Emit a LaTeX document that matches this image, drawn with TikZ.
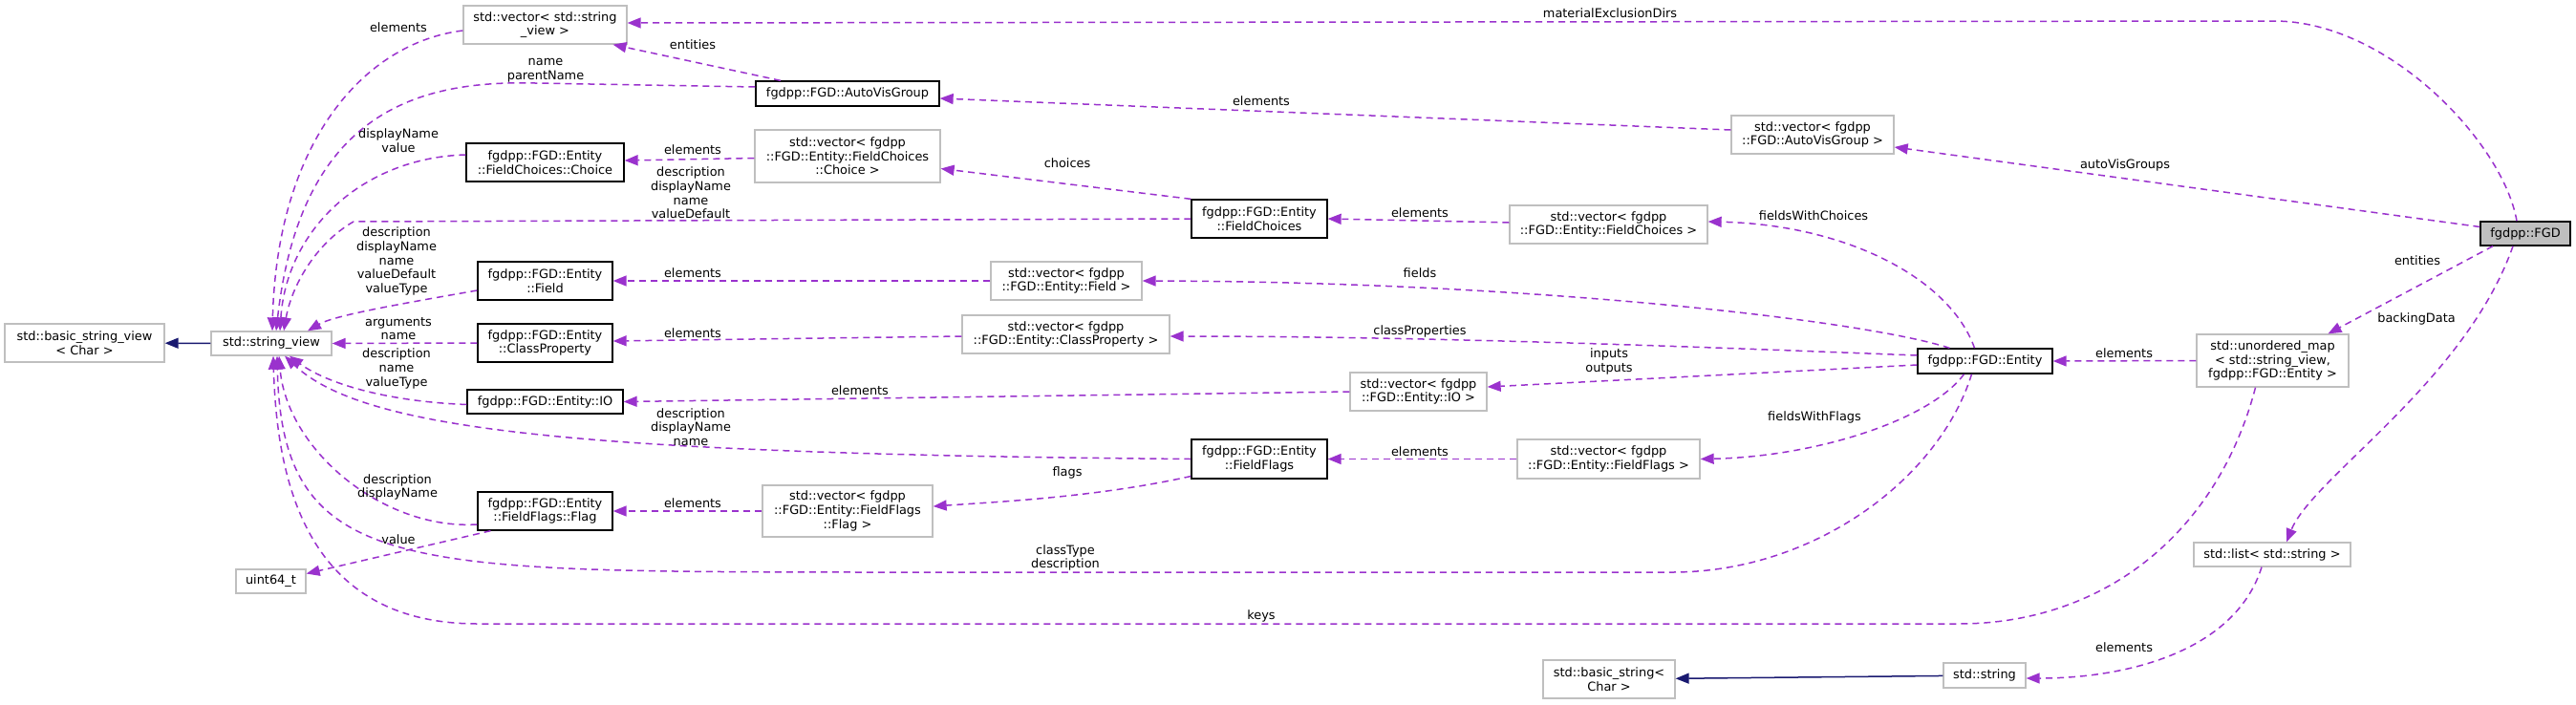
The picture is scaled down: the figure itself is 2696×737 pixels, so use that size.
\documentclass[tikz,border=0pt]{standalone}
\usepackage{fontspec}
\setmainfont{DejaVu Sans}
\usetikzlibrary{arrows.meta}
\definecolor{edgepurple}{HTML}{9A32CD}
\definecolor{basenavy}{HTML}{191970}
\definecolor{extgray}{HTML}{BFBFBF}

\begin{document}
\begin{tikzpicture}[x=1pt,y=-1pt,>={Triangle[length=14pt,width=11pt]},
    font=\fontsize{12.9}{14.6}\selectfont,
    class node/.style={draw=black,line width=1.3pt,fill=white,inner sep=0pt,align=center},
    ext node/.style={draw=extgray,line width=1.3pt,fill=white,inner sep=0pt,align=center},
    member edge/.style={->,draw=edgepurple,line width=1.5pt,dash pattern=on 7pt off 5pt},
    base edge/.style={->,draw=basenavy,line width=1.5pt},
    member label/.style={inner sep=0pt,align=center}]

  \useasboundingbox (0,0) rectangle (2696,737);

  % classes
  \node[class node,fill=extgray,minimum width=94pt,minimum height=25pt] (fgd) at (2643,244.5) {fgdpp::FGD};
  \node[class node,minimum width=141pt,minimum height=26pt] (entity) at (2077.5,378) {fgdpp::FGD::Entity};
  \node[ext node,minimum width=159pt,minimum height=55pt] (umap) at (2378.5,377.5) {std::unordered\_map\\< std::string\_view,\\ fgdpp::FGD::Entity >};
  \node[ext node,minimum width=164pt,minimum height=25pt] (list) at (2378,580.5) {std::list< std::string >};
  \node[ext node,minimum width=86pt,minimum height=26pt] (str) at (2077,707) {std::string};
  \node[ext node,minimum width=138pt,minimum height=40pt] (basicStr) at (1684,711) {std::basic\_string<\\ Char >};
  \node[ext node,minimum width=170pt,minimum height=40pt] (vecAVG) at (1897,141) {std::vector< fgdpp\\::FGD::AutoVisGroup >};
  \node[ext node,minimum width=207pt,minimum height=40pt] (vecFC) at (1683.5,235) {std::vector< fgdpp\\::FGD::Entity::FieldChoices >};
  \node[ext node,minimum width=143pt,minimum height=40pt] (vecIO) at (1484.5,410) {std::vector< fgdpp\\::FGD::Entity::IO >};
  \node[ext node,minimum width=191pt,minimum height=41pt] (vecFF) at (1683.5,480.5) {std::vector< fgdpp\\::FGD::Entity::FieldFlags >};
  \node[class node,minimum width=142pt,minimum height=40pt] (fc) at (1318,229) {fgdpp::FGD::Entity\\::FieldChoices};
  \node[class node,minimum width=142pt,minimum height=41pt] (ff) at (1318,480.5) {fgdpp::FGD::Entity\\::FieldFlags};
  \node[ext node,minimum width=158pt,minimum height=40pt] (vecField) at (1116,294) {std::vector< fgdpp\\::FGD::Entity::Field >};
  \node[ext node,minimum width=217pt,minimum height=40pt] (vecCP) at (1115.5,350) {std::vector< fgdpp\\::FGD::Entity::ClassProperty >};
  \node[ext node,minimum width=194pt,minimum height=55pt] (vecChoice) at (887,163.5) {std::vector< fgdpp\\::FGD::Entity::FieldChoices\\::Choice >};
  \node[ext node,minimum width=178pt,minimum height=54pt] (vecFlag) at (887,535) {std::vector< fgdpp\\::FGD::Entity::FieldFlags\\::Flag >};
  \node[class node,minimum width=192pt,minimum height=26pt] (avg) at (887,98) {fgdpp::FGD::AutoVisGroup};
  \node[ext node,minimum width=171pt,minimum height=40pt] (vecSV) at (570.5,26) {std::vector< std::string\\\_view >};
  \node[class node,minimum width=165pt,minimum height=40pt] (choice) at (570.5,170) {fgdpp::FGD::Entity\\::FieldChoices::Choice};
  \node[class node,minimum width=141pt,minimum height=40pt] (field) at (570.5,294) {fgdpp::FGD::Entity\\::Field};
  \node[class node,minimum width=141pt,minimum height=40pt] (cp) at (570.5,359) {fgdpp::FGD::Entity\\::ClassProperty};
  \node[class node,minimum width=163pt,minimum height=25pt] (io) at (570.5,420.5) {fgdpp::FGD::Entity::IO};
  \node[class node,minimum width=141pt,minimum height=40pt] (flag) at (570.5,535) {fgdpp::FGD::Entity\\::FieldFlags::Flag};
  \node[ext node,minimum width=126pt,minimum height=25pt] (sv) at (284,359.5) {std::string\_view};
  \node[ext node,minimum width=167pt,minimum height=40pt] (basicSV) at (88.5,359) {std::basic\_string\_view\\< Char >};
  \node[ext node,minimum width=73pt,minimum height=25pt] (uint64) at (283.5,608.5) {uint64\_t};

  % inheritance
  \path[every edge/.append style={base edge}]
    (sv) edge (basicSV)
    (str) edge (basicStr);

  % straight members
  \path[every edge/.append style={member edge}]
    ([yshift=5pt]vecAVG.west) edge ([yshift=-5pt]avg.east)
    ([yshift=7pt]fgd.west) edge ([yshift=-13pt]vecAVG.east)
    ([xshift=-70pt]avg.north) edge ([xshift=71pt]vecSV.south)
    ([yshift=-2pt]vecChoice.west) edge ([yshift=2pt]choice.east)
    (fc.north west) edge ([yshift=-13pt]vecChoice.east)
    ([yshift=2pt]vecFC.west) edge (fc.east)
    (vecField.west) edge (field.east)
    ([yshift=-2pt]vecCP.west) edge ([yshift=2pt]cp.east)
    (cp.west) edge (sv.east)
    (vecIO.west) edge (io.east)
    ([yshift=-4pt]entity.west) edge ([yshift=5pt]vecIO.east)
    (vecFF.west) edge (ff.east)
    (vecFlag.west) edge (flag.east)
    ([xshift=-57pt]flag.south) edge ([yshift=8pt]uint64.east)
    (umap.west) edge (entity.east)
    ([xshift=-34pt]fgd.south) edge ([xshift=58pt]umap.north);

  % curved members
  \draw[member edge] ([xshift=-9pt]fgd.north) .. controls (2620,150) and (2500,22) .. (2380,22) -- ([yshift=2pt]vecSV.east);
  \draw[member edge] ([yshift=-6pt]vecSV.west) .. controls (380,45) and (290,150) .. ([xshift=1pt]sv.north);
  \draw[member edge] ([yshift=7pt]avg.west) -- (560,87) .. controls (440,84) and (315,115) .. ([xshift=5pt]sv.north);
  \draw[member edge] ([yshift=8pt]choice.west) .. controls (380,165) and (300,240) .. ([xshift=9pt]sv.north);
  \draw[member edge] (fc.west) -- (370,232) .. controls (330,255) and (305,300) .. ([xshift=13pt]sv.north);
  \draw[member edge] ([yshift=-10pt]field.west) .. controls (420,318) and (350,330) .. ([xshift=38pt]sv.north);
  \draw[member edge] ([xshift=-11pt]entity.north) .. controls (2040,290) and (1930,235) .. ([yshift=3pt]vecFC.east);
  \draw[member edge] ([xshift=-37pt]entity.north) .. controls (1950,335) and (1600,295) .. (vecField.east);
  \draw[member edge] ([yshift=6pt]entity.west) .. controls (1800,364) and (1500,352) .. ([yshift=-2pt]vecCP.east);
  \draw[member edge] ([yshift=-3pt]io.west) .. controls (400,420) and (340,400) .. ([xshift=19pt]sv.south);
  \draw[member edge] (ff.west) .. controls (600,475) and (380,450) .. ([xshift=14pt]sv.south);
  \draw[member edge] ([yshift=-14pt]flag.west) .. controls (400,555) and (300,470) .. ([xshift=8pt]sv.south);
  \draw[member edge] ([xshift=-14pt]entity.south) .. controls (2030,500) and (1900,599) .. (1750,599) -- (900,599) .. controls (420,598) and (295,600) .. ([xshift=6pt]sv.south);
  \draw[member edge] ([xshift=-18pt]umap.south) .. controls (2320,560) and (2200,653) .. (2050,653) -- (500,653) .. controls (330,653) and (290,520) .. ([xshift=2pt]sv.south);
  \draw[member edge] ([xshift=-22pt]entity.south) .. controls (2020,440) and (1900,478) .. (vecFF.east);
  \draw[member edge] ([yshift=-18pt]ff.west) .. controls (1150,520) and (1050,525) .. ([yshift=5pt]vecFlag.east);
  \draw[member edge] ([xshift=-13pt]fgd.south) .. controls (2580,400) and (2420,500) .. ([xshift=15pt]list.north);
  \draw[member edge] ([xshift=-11pt]list.south) .. controls (2340,680) and (2230,710) .. ([yshift=-3pt]str.east);

  % member names
  \node[member label] (matLbl) at (1685,14) {materialExclusionDirs};
  \node[member label] (entLbl) at (725,47) {entities};
  \node[member label] (nameLbl) at (571,73.5) {name\\parentName};
  \node[member label] (svElLbl) at (417,29) {elements};
  \node[member label] (choiceLbl) at (417,147) {displayName\\value};
  \node[member label] (chElLbl) at (725,157) {elements};
  \node[member label] (choicesLbl) at (1117,171) {choices};
  \node[member label] (fcLbl) at (723,202) {description\\displayName\\name\\valueDefault};
  \node[member label] (fcElLbl) at (1486,223) {elements};
  \node[member label] (fwcLbl) at (1898,226) {fieldsWithChoices};
  \node[member label] (fieldLbl) at (415,273.5) {description\\displayName\\name\\valueDefault\\valueType};
  \node[member label] (fdElLbl) at (725,286) {elements};
  \node[member label] (fieldsLbl) at (1486,286) {fields};
  \node[member label] (cpLbl) at (417,344) {arguments\\name};
  \node[member label] (cpElLbl) at (725,349) {elements};
  \node[member label] (cpsLbl) at (1486,347) {classProperties};
  \node[member label] (ioLbl) at (415,386) {description\\name\\valueType};
  \node[member label] (ioElLbl) at (900,409) {elements};
  \node[member label] (inoutLbl) at (1684,378.5) {inputs\\outputs};
  \node[member label] (ffLbl) at (723,447) {description\\displayName\\name};
  \node[member label] (ffElLbl) at (1486,473) {elements};
  \node[member label] (fwfLbl) at (1899,437) {fieldsWithFlags};
  \node[member label] (flagsLbl) at (1117,495) {flags};
  \node[member label] (flElLbl) at (725,527) {elements};
  \node[member label] (flagLbl) at (416,510) {description\\displayName};
  \node[member label] (valueLbl) at (417,565) {value};
  \node[member label] (ctLbl) at (1115,584) {classType\\description};
  \node[member label] (keysLbl) at (1320,645) {keys};
  \node[member label] (mapElLbl) at (2223,370) {elements};
  \node[member label] (entsLbl) at (2530,273) {entities};
  \node[member label] (bdLbl) at (2529,334) {backingData};
  \node[member label] (lsElLbl) at (2223,678) {elements};
  \node[member label] (avgsLbl) at (2224,173) {autoVisGroups};
  \node[member label] (avgElLbl) at (1320,106) {elements};
\end{tikzpicture}
\end{document}
